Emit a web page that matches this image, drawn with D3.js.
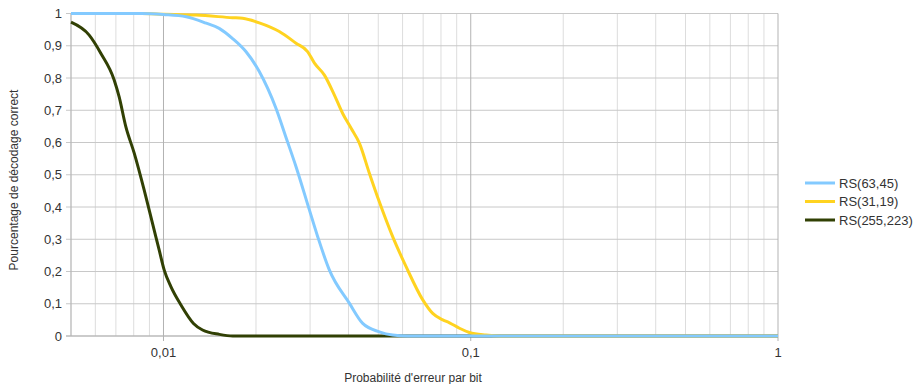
<!DOCTYPE html>
<html><head><meta charset="utf-8">
<script src="https://cdn.jsdelivr.net/npm/d3@7"></script>
<style>body{margin:0;background:#fff}svg{display:block;font-family:"Liberation Sans",Arial,sans-serif}</style>
</head><body><svg id="c" width="916" height="384"></svg>
<script>
const seriesNames = ["RS(63,45)", "RS(31,19)", "RS(255,223)"];
const seriesColors = ["#83caff", "#ffd320", "#314004"];
// [p, fraction correct]
const rs63_45 = [[0.005,1],[0.0085,1],[0.01,0.997],[0.01186,0.990],[0.01377,0.970],[0.01518,0.954],[0.01675,0.923],[0.01854,0.882],[0.0205,0.820],[0.02323,0.706],[0.0250,0.618],[0.027,0.525],[0.02984,0.391],[0.03176,0.308],[0.03465,0.205],[0.0403,0.101],[0.0445,0.039],[0.0504,0.013],[0.0557,0.003],[0.062,0],[1,0]];
const rs31_19 = [[0.005,1],[0.0085,1],[0.01,0.998],[0.01275,0.995],[0.01678,0.987],[0.01809,0.985],[0.0205,0.971],[0.02382,0.944],[0.027,0.908],[0.02944,0.882],[0.031,0.846],[0.0334,0.809],[0.036,0.747],[0.0383,0.690],[0.0408,0.644],[0.0434,0.598],[0.0468,0.504],[0.0504,0.416],[0.0557,0.308],[0.0616,0.215],[0.0698,0.112],[0.0752,0.070],[0.0811,0.050],[0.0853,0.041],[0.0919,0.024],[0.099,0.011],[0.112,0.003],[0.125,0],[1,0]];
const rs255_223 = [[0.005,0.973],[0.00573,0.933],[0.00625,0.877],[0.00691,0.794],[0.00717,0.742],[0.00754,0.649],[0.00803,0.567],[0.00865,0.453],[0.00921,0.349],[0.00968,0.267],[0.01005,0.205],[0.01057,0.153],[0.0114,0.096],[0.01252,0.039],[0.0134,0.0186],[0.0152,0.005],[0.0168,0],[1,0]];
const yTicks = [0,0.1,0.2,0.3,0.4,0.5,0.6,0.7,0.8,0.9,1];
const xTicks = [0.01,0.1,1];
const xMinor = [0.005,0.006,0.007,0.008,0.009,0.02,0.03,0.04,0.05,0.06,0.07,0.08,0.09,0.2,0.3,0.4,0.5,0.6,0.7,0.8,0.9];

const svg = d3.select("#c");
const L=71, R=778, T=13.5, B=336;
const x = d3.scaleLog().domain([0.005,1]).range([L,R]);
const y = d3.scaleLinear().domain([0,1]).range([B,T]);
const fmt = v => String(v).replace(".", ",");

const g = svg.append("g");
g.selectAll(".mn").data(xMinor).join("line")
  .attr("x1",d=>x(d)).attr("x2",d=>x(d)).attr("y1",T).attr("y2",B)
  .attr("stroke","#dddddd").attr("stroke-width",1);
g.selectAll(".hg").data(yTicks).join("line")
  .attr("x1",L-5).attr("x2",R).attr("y1",d=>y(d)).attr("y2",d=>y(d))
  .attr("stroke","#c8c8c8").attr("stroke-width",1);
g.selectAll(".mj").data(xTicks).join("line")
  .attr("x1",d=>x(d)).attr("x2",d=>x(d)).attr("y1",T).attr("y2",B+5)
  .attr("stroke","#b3b3b3").attr("stroke-width",1);
g.append("line").attr("x1",L).attr("x2",L).attr("y1",T).attr("y2",B).attr("stroke","#b3b3b3");
g.append("line").attr("x1",L-5).attr("x2",R).attr("y1",B).attr("y2",B).attr("stroke","#b3b3b3");

g.selectAll(".yl").data(yTicks).join("text")
  .attr("x",62).attr("y",d=>y(d)).attr("dy","0.35em").attr("text-anchor","end")
  .attr("font-size",13).attr("fill","#333").text(fmt);
g.selectAll(".xl").data(xTicks).join("text")
  .attr("x",d=>x(d)).attr("y",357).attr("text-anchor","middle")
  .attr("font-size",13).attr("fill","#333").text(fmt);

svg.append("text").attr("x",413).attr("y",382).attr("text-anchor","middle")
  .attr("font-size",12).attr("fill","#333").text("Probabilité d'erreur par bit");
svg.append("text").attr("transform","translate(18,180) rotate(-90)").attr("text-anchor","middle")
  .attr("font-size",12).attr("fill","#333").text("Pourcentage de décodage correct");

const line = d3.line().x(d=>x(d[0])).y(d=>y(d[1])).curve(d3.curveMonotoneX);
const data = [rs63_45, rs31_19, rs255_223];
[2,1,0].forEach(i=>{
  svg.append("path").datum(data[i]).attr("d",line).attr("fill","none")
    .attr("stroke",seriesColors[i]).attr("stroke-width",3).attr("stroke-linejoin","round");
});

const lg = svg.append("g");
seriesNames.forEach((n,i)=>{
  const yy = 183 + i*18.5;
  lg.append("line").attr("x1",805).attr("x2",835).attr("y1",yy).attr("y2",yy)
    .attr("stroke",seriesColors[i]).attr("stroke-width",3);
  lg.append("text").attr("x",839).attr("y",yy).attr("dy","0.35em")
    .attr("font-size",13).attr("fill","#333").text(n);
});
</script></body></html>
